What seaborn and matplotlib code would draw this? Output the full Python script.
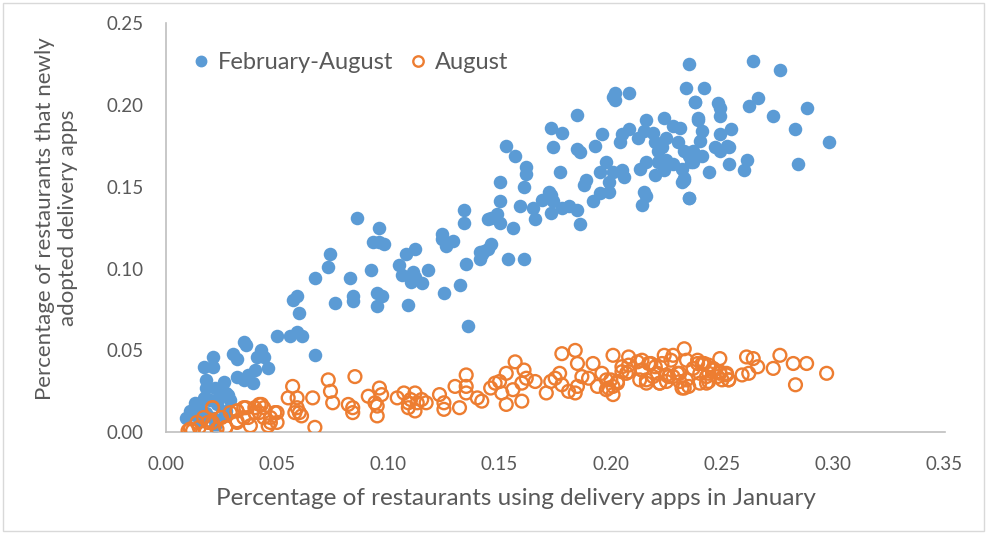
import numpy as np
import pandas as pd
import seaborn as sns
import matplotlib.pyplot as plt
from matplotlib.lines import Line2D
from matplotlib.patches import Rectangle

# February-August (blue, filled)
feb_x = [0.057, 0.059, 0.060, 0.050, 0.056, 0.059, 0.061, 0.067, 0.076, 0.084, 0.084, 0.095, 0.097, 0.095, 0.109,
         0.035, 0.036, 0.030, 0.032, 0.021, 0.017, 0.021, 0.041, 0.043, 0.044, 0.046, 0.040, 0.037, 0.032, 0.035,
         0.039, 0.026, 0.018, 0.022, 0.027, 0.013, 0.017, 0.020, 0.024, 0.028, 0.015, 0.023, 0.014, 0.018, 0.027,
         0.016, 0.021, 0.026, 0.011, 0.009, 0.022, 0.029, 0.018,
         0.086, 0.096, 0.093, 0.096, 0.098, 0.074, 0.073, 0.067, 0.083, 0.092, 0.105, 0.108, 0.112, 0.106, 0.111,
         0.112, 0.110, 0.115, 0.118, 0.124, 0.124, 0.126, 0.129, 0.134, 0.134, 0.135, 0.132, 0.125, 0.136, 0.141,
         0.142, 0.145, 0.145,
         0.185, 0.173, 0.178, 0.174, 0.186, 0.185, 0.153, 0.157, 0.162, 0.162, 0.177, 0.150, 0.161, 0.150, 0.159,
         0.146, 0.149, 0.150, 0.156, 0.172, 0.173, 0.169, 0.174, 0.165, 0.166, 0.173, 0.178, 0.181, 0.185, 0.186,
         0.141, 0.143, 0.146, 0.154, 0.161,
         0.193, 0.196, 0.195, 0.198, 0.201, 0.199, 0.189, 0.188, 0.195, 0.199, 0.192, 0.205, 0.206, 0.204, 0.205,
         0.208, 0.212, 0.216, 0.215, 0.219, 0.220, 0.224, 0.228, 0.231, 0.225, 0.221, 0.223, 0.230, 0.233, 0.213,
         0.216, 0.221, 0.225, 0.228, 0.224, 0.232, 0.220, 0.233, 0.236, 0.215, 0.216, 0.214, 0.235, 0.239, 0.238,
         0.202, 0.202, 0.201, 0.208,
         0.235, 0.264, 0.276, 0.234, 0.242, 0.238, 0.248, 0.249, 0.249, 0.262, 0.266, 0.273, 0.288, 0.283, 0.298,
         0.284, 0.239, 0.241, 0.254, 0.249, 0.240, 0.247, 0.252, 0.253, 0.249, 0.241, 0.237, 0.235, 0.237, 0.253,
         0.261, 0.244, 0.260, 0.233, 0.232, 0.235]
feb_y = [0.081, 0.083, 0.073, 0.059, 0.059, 0.061, 0.059, 0.047, 0.079, 0.083, 0.080, 0.085, 0.083, 0.077, 0.078,
         0.055, 0.053, 0.048, 0.045, 0.046, 0.040, 0.040, 0.046, 0.050, 0.046, 0.039, 0.038, 0.035, 0.034, 0.032,
         0.030, 0.031, 0.027, 0.027, 0.024, 0.018, 0.021, 0.020, 0.021, 0.023, 0.015, 0.017, 0.010, 0.012, 0.013,
         0.007, 0.009, 0.010, 0.013, 0.009, 0.004, 0.020, 0.032,
         0.131, 0.125, 0.116, 0.116, 0.115, 0.109, 0.101, 0.094, 0.094, 0.099, 0.102, 0.109, 0.112, 0.096, 0.098,
         0.095, 0.092, 0.091, 0.099, 0.121, 0.118, 0.114, 0.117, 0.136, 0.128, 0.103, 0.090, 0.085, 0.065, 0.106,
         0.109, 0.112, 0.130,
         0.194, 0.186, 0.183, 0.174, 0.171, 0.173, 0.175, 0.169, 0.162, 0.158, 0.159, 0.153, 0.150, 0.141, 0.138,
         0.131, 0.133, 0.128, 0.125, 0.147, 0.145, 0.142, 0.141, 0.137, 0.130, 0.134, 0.137, 0.138, 0.136, 0.127,
         0.110, 0.111, 0.115, 0.106, 0.106,
         0.175, 0.182, 0.159, 0.165, 0.159, 0.153, 0.154, 0.151, 0.146, 0.147, 0.141, 0.160, 0.156, 0.177, 0.182,
         0.185, 0.180, 0.191, 0.184, 0.183, 0.177, 0.192, 0.187, 0.186, 0.180, 0.172, 0.174, 0.177, 0.172, 0.161,
         0.165, 0.165, 0.166, 0.164, 0.160, 0.161, 0.157, 0.154, 0.165, 0.147, 0.144, 0.139, 0.143, 0.192, 0.202,
         0.203, 0.207, 0.205, 0.207,
         0.225, 0.227, 0.221, 0.210, 0.210, 0.202, 0.201, 0.198, 0.193, 0.199, 0.204, 0.193, 0.198, 0.185, 0.177,
         0.164, 0.191, 0.184, 0.185, 0.182, 0.178, 0.174, 0.175, 0.174, 0.172, 0.169, 0.172, 0.169, 0.165, 0.164,
         0.166, 0.159, 0.160, 0.155, 0.153, 0.143]

# August (orange, hollow)
aug_x = [0.073, 0.085, 0.057, 0.055, 0.059, 0.066, 0.074, 0.075, 0.059, 0.060, 0.058, 0.061, 0.067, 0.082, 0.084,
         0.084, 0.091, 0.096, 0.097, 0.095, 0.095, 0.104, 0.107, 0.109, 0.042, 0.050, 0.047, 0.050, 0.046, 0.040,
         0.035, 0.037, 0.032, 0.032, 0.021, 0.027,
         0.021, 0.012, 0.015, 0.018, 0.017, 0.021, 0.025, 0.027, 0.029, 0.032, 0.035, 0.036, 0.040, 0.042, 0.043,
         0.047, 0.049, 0.011, 0.023, 0.014, 0.019, 0.032, 0.038, 0.010, 0.094, 0.044, 0.044,
         0.112, 0.110, 0.113, 0.115, 0.117, 0.112, 0.109, 0.123, 0.125, 0.125, 0.132, 0.130, 0.135, 0.135, 0.135,
         0.140, 0.142, 0.146, 0.148, 0.150, 0.151, 0.153, 0.157, 0.153, 0.160, 0.156, 0.160, 0.161, 0.162, 0.166,
         0.171, 0.173, 0.175, 0.177, 0.178, 0.181, 0.184, 0.185, 0.178, 0.184, 0.185, 0.187, 0.190, 0.192, 0.194,
         0.196, 0.198, 0.199, 0.201, 0.201, 0.203, 0.205, 0.208, 0.208, 0.212, 0.214, 0.213, 0.216, 0.218, 0.221,
         0.222, 0.224, 0.225, 0.227, 0.230, 0.231, 0.233, 0.233, 0.234,
         0.249, 0.261, 0.264, 0.266, 0.273, 0.276, 0.282, 0.288, 0.297, 0.283, 0.259, 0.262, 0.253, 0.252, 0.249,
         0.243, 0.239, 0.241, 0.232, 0.235, 0.237, 0.240, 0.243, 0.228, 0.231, 0.234, 0.225, 0.222, 0.219, 0.216,
         0.214, 0.217, 0.220, 0.248, 0.250,
         0.214, 0.223, 0.228, 0.239, 0.242, 0.240, 0.244, 0.246, 0.226, 0.205, 0.207, 0.208, 0.200, 0.203, 0.198,
         0.201, 0.244, 0.246, 0.249, 0.252, 0.253, 0.244]
aug_y = [0.032, 0.034, 0.028, 0.021, 0.021, 0.021, 0.025, 0.018, 0.015, 0.012, 0.012, 0.010, 0.003, 0.017, 0.015,
         0.012, 0.022, 0.027, 0.023, 0.016, 0.010, 0.021, 0.024, 0.018, 0.017, 0.012, 0.009, 0.006, 0.004, 0.012,
         0.015, 0.009, 0.013, 0.007, 0.015, 0.003,
         0.015, 0.001, 0.003, 0.000, 0.009, 0.006, 0.009, 0.003, 0.012, 0.013, 0.009, 0.015, 0.015, 0.012, 0.017,
         0.006, 0.012, 0.002, 0.002, 0.006, 0.006, 0.006, 0.004, 0.001, 0.018, 0.015, 0.009,
         0.024, 0.020, 0.018, 0.020, 0.018, 0.013, 0.015, 0.023, 0.018, 0.014, 0.015, 0.028, 0.035, 0.028, 0.024,
         0.021, 0.019, 0.027, 0.030, 0.031, 0.024, 0.036, 0.043, 0.017, 0.019, 0.026, 0.030, 0.038, 0.033, 0.031,
         0.024, 0.031, 0.033, 0.036, 0.029, 0.025, 0.024, 0.028, 0.048, 0.050, 0.042, 0.034, 0.033, 0.042, 0.028,
         0.036, 0.032, 0.027, 0.047, 0.023, 0.031, 0.037, 0.046, 0.041, 0.043, 0.038, 0.032, 0.030, 0.042, 0.036,
         0.030, 0.047, 0.035, 0.044, 0.036, 0.031, 0.051, 0.027, 0.044,
         0.045, 0.046, 0.045, 0.040, 0.039, 0.047, 0.042, 0.042, 0.036, 0.029, 0.035, 0.036, 0.032, 0.036, 0.037,
         0.030, 0.044, 0.042, 0.027, 0.028, 0.039, 0.036, 0.034, 0.034, 0.036, 0.032, 0.031, 0.030, 0.034, 0.032,
         0.038, 0.042, 0.040, 0.034, 0.032,
         0.044, 0.042, 0.047, 0.042, 0.042, 0.030, 0.036, 0.038, 0.034, 0.040, 0.036, 0.037, 0.032, 0.030, 0.026,
         0.028, 0.041, 0.039, 0.036, 0.035, 0.032, 0.031]

x_ticks = [0.00, 0.05, 0.10, 0.15, 0.20, 0.25, 0.30, 0.35]
y_ticks = [0.00, 0.05, 0.10, 0.15, 0.20, 0.25]

blue = "#5B9BD5"
orange = "#ED7D31"
grey = "#595959"

sns.set_style("white")
plt.rcParams["font.family"] = ["Lato", "DejaVu Sans"]

fig = plt.figure(figsize=(9.87, 5.33), dpi=100)
ax = fig.add_axes([0.168, 0.189, 0.789, 0.768])

sns.scatterplot(x=feb_x, y=feb_y, ax=ax, color=blue, s=95, linewidth=0, zorder=2)
sns.scatterplot(x=aug_x, y=aug_y, ax=ax, facecolor="none", edgecolor=orange,
                linewidth=1.7, s=85, zorder=3)

ax.set_xlim(0, 0.35)
ax.set_ylim(0, 0.25)
ax.set_xticks(x_ticks)
ax.set_yticks(y_ticks)
ax.set_xticklabels([f"{v:.2f}" for v in x_ticks])
ax.set_yticklabels([f"{v:.2f}" for v in y_ticks])
ax.tick_params(axis="both", colors="#BFBFBF", labelcolor=grey, labelsize=13.5,
               direction="out", length=5, width=1)
ax.tick_params(axis="x", pad=12)
ax.tick_params(axis="y", pad=11)

sns.despine(ax=ax)
for side in ["left", "bottom"]:
    ax.spines[side].set_color("#BFBFBF")
    ax.spines[side].set_linewidth(1.2)

ax.set_xlabel("Percentage of restaurants using delivery apps in January",
              fontsize=17.5, color=grey)
ax.xaxis.set_label_coords(0.45, -0.135)
ax.set_ylabel("Percentage of restaurants that newly\nadopted delivery apps",
              fontsize=16, color=grey, linespacing=1.2)
ax.yaxis.set_label_coords(-0.113, 0.523)

handles = [
    Line2D([], [], marker="o", linestyle="none", markerfacecolor=blue,
           markeredgecolor=blue, markersize=7.5),
    Line2D([], [], marker="o", linestyle="none", markerfacecolor="none",
           markeredgecolor=orange, markeredgewidth=1.7, markersize=7.5),
]
ax.legend(handles, ["February-August", "August"], loc="upper left",
          bbox_to_anchor=(0.0, 0.98), ncol=2, frameon=False, fontsize=17,
          labelcolor=grey, handletextpad=0.1, columnspacing=0.45, handlelength=1.2)

fig.patches.append(Rectangle((0.003, 0.004), 0.994, 0.99, transform=fig.transFigure,
                             fill=False, edgecolor="#D9D9D9", linewidth=1))

fig.savefig("out.png", dpi=100)
